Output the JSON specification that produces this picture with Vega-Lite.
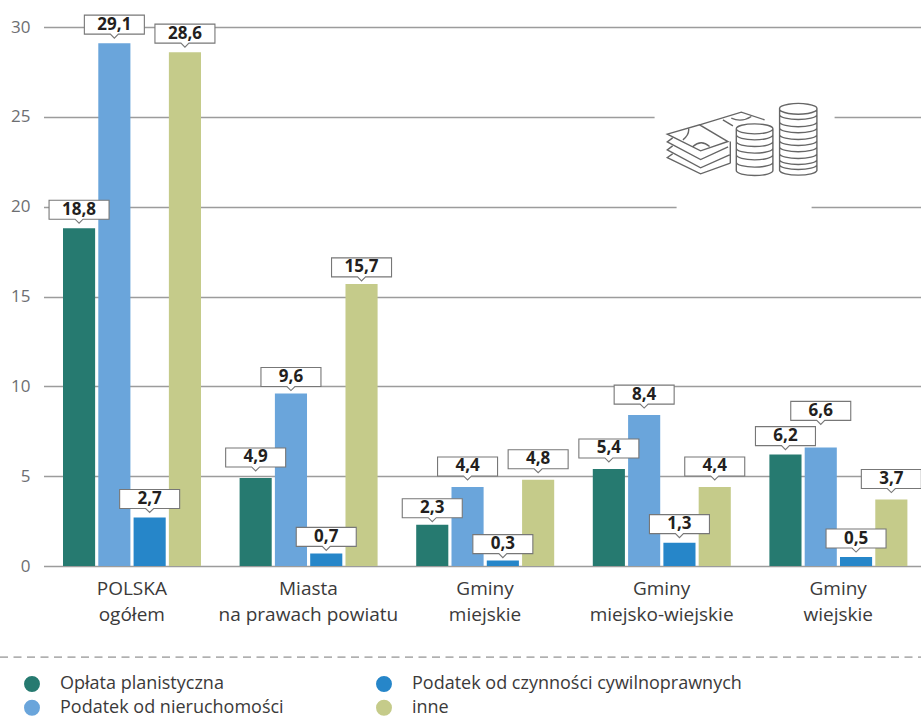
{
  "$schema": "https://vega.github.io/schema/vega-lite/v6.json",
  "width": 877,
  "height": 539,
  "autosize": "none",
  "padding": {"left": 44, "top": 27, "right": 0, "bottom": 152},
  "background": "white",
  "config": {
    "view": {"stroke": null},
    "font": "Open Sans"
  },
  "data": {
    "values": [
      {"group": "POLSKA\nogółem", "series": "Opłata planistyczna", "value": 18.8, "label": "18,8"},
      {"group": "POLSKA\nogółem", "series": "Podatek od nieruchomości", "value": 29.1, "label": "29,1"},
      {"group": "POLSKA\nogółem", "series": "Podatek od czynności cywilnoprawnych", "value": 2.7, "label": "2,7"},
      {"group": "POLSKA\nogółem", "series": "inne", "value": 28.6, "label": "28,6"},
      {"group": "Miasta\nna prawach powiatu", "series": "Opłata planistyczna", "value": 4.9, "label": "4,9"},
      {"group": "Miasta\nna prawach powiatu", "series": "Podatek od nieruchomości", "value": 9.6, "label": "9,6"},
      {"group": "Miasta\nna prawach powiatu", "series": "Podatek od czynności cywilnoprawnych", "value": 0.7, "label": "0,7"},
      {"group": "Miasta\nna prawach powiatu", "series": "inne", "value": 15.7, "label": "15,7"},
      {"group": "Gminy\nmiejskie", "series": "Opłata planistyczna", "value": 2.3, "label": "2,3"},
      {"group": "Gminy\nmiejskie", "series": "Podatek od nieruchomości", "value": 4.4, "label": "4,4"},
      {"group": "Gminy\nmiejskie", "series": "Podatek od czynności cywilnoprawnych", "value": 0.3, "label": "0,3"},
      {"group": "Gminy\nmiejskie", "series": "inne", "value": 4.8, "label": "4,8"},
      {"group": "Gminy\nmiejsko-wiejskie", "series": "Opłata planistyczna", "value": 5.4, "label": "5,4"},
      {"group": "Gminy\nmiejsko-wiejskie", "series": "Podatek od nieruchomości", "value": 8.4, "label": "8,4"},
      {"group": "Gminy\nmiejsko-wiejskie", "series": "Podatek od czynności cywilnoprawnych", "value": 1.3, "label": "1,3"},
      {"group": "Gminy\nmiejsko-wiejskie", "series": "inne", "value": 4.4, "label": "4,4"},
      {"group": "Gminy\nwiejskie", "series": "Opłata planistyczna", "value": 6.2, "label": "6,2"},
      {"group": "Gminy\nwiejskie", "series": "Podatek od nieruchomości", "value": 6.6, "label": "6,6"},
      {"group": "Gminy\nwiejskie", "series": "Podatek od czynności cywilnoprawnych", "value": 0.5, "label": "0,5"},
      {"group": "Gminy\nwiejskie", "series": "inne", "value": 3.7, "label": "3,7"}
    ]
  },
  "encoding": {
    "x": {
      "field": "group",
      "type": "nominal",
      "sort": null,
      "title": null,
      "scale": {"range": [-0.5, 882.5], "paddingInner": 0, "paddingOuter": 0},
      "axis": {
        "domain": false,
        "ticks": false,
        "labelAngle": 0,
        "labelAlign": "center",
        "labelBaseline": "top",
        "labelFont": "Open Sans",
        "labelFontSize": 19,
        "labelColor": "#3b3a3a",
        "labelPadding": 13,
        "labelLineHeight": 26,
        "labelExpr": "split(datum.label, '\\n')",
        "labelOverlap": false,
        "labelLimit": 300
      }
    },
    "xOffset": {
      "field": "series",
      "type": "nominal",
      "sort": null,
      "scale": {
        "domain": ["Opłata planistyczna", "Podatek od nieruchomości", "Podatek od czynności cywilnoprawnych", "inne"],
        "range": [19.5, 157.5],
        "paddingInner": 0.09,
        "paddingOuter": 0
      }
    },
    "y": {
      "field": "value",
      "type": "quantitative",
      "title": null,
      "scale": {"domain": [0, 30], "nice": false},
      "axis": {
        "values": [0, 5, 10, 15, 20, 25, 30],
        "domain": false,
        "ticks": false,
        "grid": true,
        "gridColor": "#9c9c9c",
        "gridWidth": 1.3,
        "labelFont": "Open Sans",
        "labelFontSize": 17,
        "labelColor": "#6d6e71",
        "labelPadding": 14
      }
    }
  },
  "layer": [
    {
      "mark": {"type": "bar"},
      "encoding": {
        "color": {
          "field": "series",
          "type": "nominal",
          "sort": null,
          "title": null,
          "scale": {
            "domain": ["Opłata planistyczna", "Podatek od nieruchomości", "Podatek od czynności cywilnoprawnych", "inne"],
            "range": ["#267a70", "#6aa5db", "#2686c9", "#c5cb8a"]
          },
          "legend": {
            "orient": "none",
            "legendX": -21,
            "legendY": 645,
            "direction": "vertical",
            "columns": 2,
            "columnPadding": 91,
            "rowPadding": 0,
            "symbolType": "circle",
            "symbolSize": 254,
            "symbolStrokeWidth": 0,
            "symbolOpacity": 1,
            "labelFont": "Open Sans",
            "labelFontSize": 18,
            "labelColor": "#3b3a3a",
            "labelOffset": 19,
            "labelLimit": 400,
            "clipHeight": 23.5
          }
        }
      }
    },
    {
      "transform": [{"filter": {"field": "label", "oneOf": ["15,7", "9,6", "0,7", "2,3", "0,3"]}}],
      "mark": {"type": "point", "shape": "M-30,-26H30V-7H4L0,-3L-4,-7H-30Z", "size": 4, "filled": true, "fill": "white", "fillOpacity": 1, "stroke": "#777777", "strokeWidth": 1.1, "strokeOpacity": 1, "opacity": 1}
    },
    {
      "transform": [{"filter": {"field": "label", "oneOf": ["18,8", "29,1", "28,6", "6,2", "2,7", "1,3", "0,5"]}}],
      "mark": {"type": "point", "shape": "M-30,-28H30V-9H4L0,-5L-4,-9H-30Z", "size": 4, "filled": true, "fill": "white", "fillOpacity": 1, "stroke": "#777777", "strokeWidth": 1.1, "strokeOpacity": 1, "opacity": 1}
    },
    {
      "transform": [{"filter": {"field": "label", "oneOf": ["4,9", "4,4", "4,8", "8,4", "5,4", "3,7"]}}],
      "mark": {"type": "point", "shape": "M-30,-30H30V-11H4L0,-7L-4,-11H-30Z", "size": 4, "filled": true, "fill": "white", "fillOpacity": 1, "stroke": "#777777", "strokeWidth": 1.1, "strokeOpacity": 1, "opacity": 1}
    },
    {
      "transform": [{"filter": {"field": "label", "oneOf": ["6,6"]}}],
      "mark": {"type": "point", "shape": "M-30,-46H30V-27H4L0,-23L-4,-27H-30Z", "size": 4, "filled": true, "fill": "white", "fillOpacity": 1, "stroke": "#777777", "strokeWidth": 1.1, "strokeOpacity": 1, "opacity": 1}
    },
    {
      "transform": [{"filter": {"field": "label", "oneOf": ["15,7", "9,6", "0,7", "2,3", "0,3"]}}],
      "mark": {"type": "text", "font": "Open Sans", "fontWeight": "bold", "fontSize": 17, "color": "#231f20", "baseline": "middle", "align": "center", "dy": -16.5},
      "encoding": {"text": {"field": "label"}}
    },
    {
      "transform": [{"filter": {"field": "label", "oneOf": ["18,8", "29,1", "28,6", "6,2", "2,7", "1,3", "0,5"]}}],
      "mark": {"type": "text", "font": "Open Sans", "fontWeight": "bold", "fontSize": 17, "color": "#231f20", "baseline": "middle", "align": "center", "dy": -18.5},
      "encoding": {"text": {"field": "label"}}
    },
    {
      "transform": [{"filter": {"field": "label", "oneOf": ["4,9", "4,4", "4,8", "8,4", "5,4", "3,7"]}}],
      "mark": {"type": "text", "font": "Open Sans", "fontWeight": "bold", "fontSize": 17, "color": "#231f20", "baseline": "middle", "align": "center", "dy": -20.5},
      "encoding": {"text": {"field": "label"}}
    },
    {
      "transform": [{"filter": {"field": "label", "oneOf": ["6,6"]}}],
      "mark": {"type": "text", "font": "Open Sans", "fontWeight": "bold", "fontSize": 17, "color": "#231f20", "baseline": "middle", "align": "center", "dy": -36.5},
      "encoding": {"text": {"field": "label"}}
    },
    {
      "data": {"values": [{"group": "Gminy\nmiejsko-wiejskie", "level": 25}]},
      "mark": {
        "type": "point",
        "shape": "M-7,-6L173,-6L173,6L150,84L150,96L15,96L15,84L-7,6Z",
        "size": 4,
        "filled": true,
        "fill": "white",
        "fillOpacity": 1,
        "strokeWidth": 0,
        "opacity": 1
      },
      "encoding": {
        "xOffset": {"value": 88.3},
        "y": {"field": "level", "type": "quantitative"}
      }
    },
    {
      "data": {"values": [{"group": "Gminy\nmiejsko-wiejskie", "level": 25}]},
      "mark": {
        "type": "point",
        "shape": "M5.7,17.3L38,8L66.3,24.7L39,34ZM38,8L79.7,-4.7L103,3M11,21L5.7,25L39,42.7L66.5,30M11,29L5.7,33L39,51L68,38M11,37L5.7,40.7L39,57L68.7,46.3M68.7,24.7V46.3M21.3,23Q28,18 27,11.3M31.3,29.7Q39.6,22 48,29.7M69.7,1.3Q80,6 89.7,-0.3M61.3,3L71.3,9M74.7,12A18.3,5 0 1 1 111.3,12A18.3,5 0 1 1 74.7,12M74.7,12V53.7A18.3,5 0 0 0 111.3,53.7V12M74.7,18A18.3,5 0 0 0 111.3,18M74.7,24.7A18.3,5 0 0 0 111.3,24.7M74.7,31.3A18.3,5 0 0 0 111.3,31.3M74.7,38A18.3,5 0 0 0 111.3,38M74.7,45.3A18.3,5 0 0 0 111.3,45.3M118,-8A18.7,5 0 1 1 155.3,-8A18.7,5 0 1 1 118,-8M118,-8V53.7A18.7,5 0 0 0 155.3,53.7V-8M118,-2A18.7,5 0 0 0 155.3,-2M118,5.3A18.7,5 0 0 0 155.3,5.3M118,11.3A18.7,5 0 0 0 155.3,11.3M118,18A18.7,5 0 0 0 155.3,18M118,24A18.7,5 0 0 0 155.3,24M118,30.3A18.7,5 0 0 0 155.3,30.3M118,37A18.7,5 0 0 0 155.3,37M118,43A18.7,5 0 0 0 155.3,43M118,48A18.7,5 0 0 0 155.3,48",
        "size": 4,
        "filled": false,
        "stroke": "#666666",
        "strokeWidth": 1.4,
        "opacity": 1
      },
      "encoding": {
        "xOffset": {"value": 88.3},
        "y": {"field": "level", "type": "quantitative"}
      }
    },
    {
      "data": {"values": [{"level": -5.07}]},
      "mark": {
        "type": "rule",
        "color": "#777777",
        "strokeWidth": 1,
        "strokeDash": [8, 5.5]
      },
      "encoding": {
        "x": {"value": -44},
        "x2": {"value": 877},
        "xOffset": null,
        "y": {"field": "level", "type": "quantitative"}
      }
    }
  ]
}
